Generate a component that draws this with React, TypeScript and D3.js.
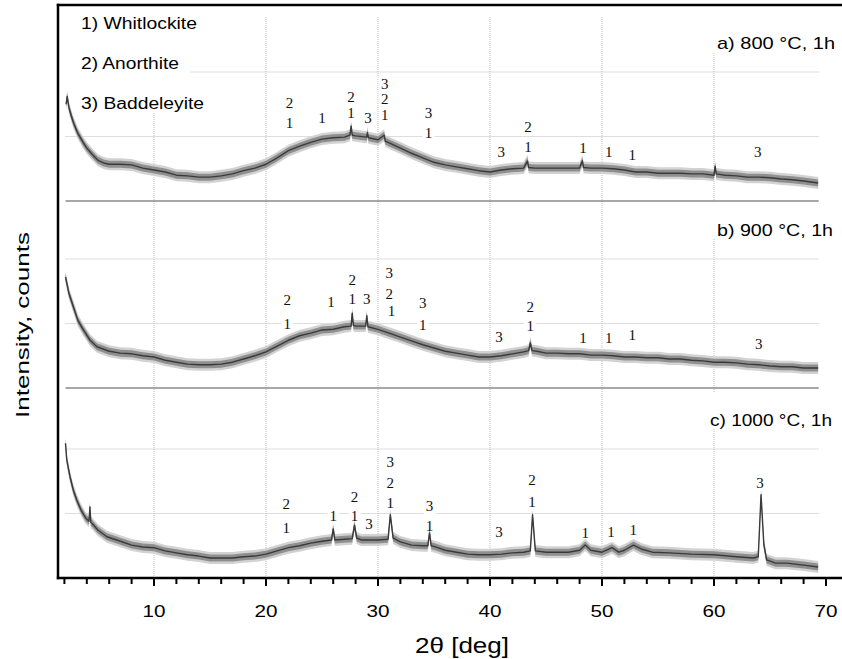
import React from "react";
import * as d3 from "d3";

// 2θ ticks
const minorTicks: number[] = [2,4,6,8,12,14,16,18,22,24,26,28,32,34,36,38,42,44,46,48,52,54,56,58,62,64,66,68];
const majorTicks: number[] = [10,20,30,40,50,60,70];
const gridX: number[] = [10,20,30,40,50,60];
const gridY: number[] = [1, 2];

const legendItems: string[] = ["1) Whitlockite", "2) Anorthite", "3) Baddeleyite"];
const panelLabels: string[] = ["a) 800  °C, 1h", "b) 900  °C, 1h", "c) 1000 °C, 1h"];

// [2θ, intensity (relative units)]
const patternA: [number, number][] = [
  [2.15,1.50],[2.25,1.62],[2.4,1.45],[2.6,1.33],[2.8,1.22],[3.0,1.13],[3.2,1.05],[3.4,0.99],[3.7,0.90],[4.0,0.82],
  [4.3,0.76],[4.6,0.70],[5.0,0.63],[5.5,0.59],[6,0.57],[7,0.57],[8,0.56],[9,0.51],[10,0.48],[11,0.45],[12,0.40],
  [13,0.39],[14,0.37],[15,0.37],[16,0.39],[17,0.42],[18,0.47],[19,0.51],[20,0.57],[21,0.67],[22,0.78],[23,0.85],
  [24,0.91],[25,0.96],[26,0.98],[27,0.99],[27.5,1.02],[27.6,1.16],[27.7,1.02],[28,1.01],[29,0.99],[29.05,1.06],
  [29.15,0.98],[30,0.95],[30.55,1.02],[30.65,0.93],[31,0.90],[32,0.82],[33,0.74],[34,0.67],[35,0.60],[36,0.56],
  [37,0.53],[38,0.50],[39,0.47],[40,0.45],[41,0.48],[42,0.50],[43,0.51],[43.35,0.62],[43.45,0.52],[44,0.51],[45,0.51],
  [46,0.51],[47,0.51],[48,0.51],[48.25,0.62],[48.35,0.52],[49,0.51],[50,0.51],[51,0.50],[52,0.48],[53,0.45],[54,0.45],
  [55,0.43],[56,0.43],[57,0.43],[58,0.42],[59,0.42],[60,0.40],[60.1,0.54],[60.2,0.42],[61,0.40],[62,0.39],[63,0.37],
  [64,0.37],[65,0.36],[66,0.34],[67,0.33],[68,0.31],[69.3,0.28]
];

const patternB: [number, number][] = [
  [2.1,1.72],[2.4,1.47],[2.8,1.26],[3.2,1.05],[3.7,0.90],[4.3,0.74],[4.9,0.64],[6,0.57],[7,0.54],[8,0.53],[9,0.50],
  [10,0.48],[11,0.43],[12,0.40],[13,0.37],[14,0.36],[15,0.36],[16,0.37],[17,0.40],[18,0.45],[19,0.50],[20,0.56],
  [21,0.65],[22,0.74],[23,0.81],[24,0.85],[25,0.90],[26,0.91],[27,0.95],[27.6,0.96],[27.7,1.16],[27.8,0.97],[28,0.96],
  [28.9,0.96],[29.0,1.12],[29.1,0.95],[30,0.91],[31,0.85],[32,0.79],[33,0.73],[34,0.67],[35,0.62],[36,0.57],[37,0.54],
  [38,0.51],[39,0.48],[40,0.48],[41,0.50],[42,0.53],[43,0.56],[43.45,0.58],[43.6,0.70],[43.75,0.58],[44.2,0.57],[45,0.54],
  [46,0.54],[47,0.53],[48,0.53],[49,0.51],[50,0.51],[51,0.50],[52,0.48],[53,0.48],[54,0.47],[55,0.47],[56,0.45],
  [57,0.45],[58,0.43],[59,0.42],[60,0.40],[61,0.40],[62,0.39],[63,0.37],[64,0.36],[65,0.34],[66,0.33],[67,0.33],
  [68,0.31],[69.3,0.31]
];

const patternC: [number, number][] = [
  [2.1,2.09],[2.2,1.85],[2.3,1.75],[2.5,1.57],[2.8,1.36],[3.1,1.21],[3.5,1.05],[3.9,0.93],[4.2,0.88],[4.28,1.10],
  [4.36,0.86],[4.5,0.84],[5,0.74],[5.8,0.64],[7,0.57],[8,0.51],[9,0.48],[10,0.47],[11,0.42],[12,0.39],[13,0.36],
  [14,0.34],[15,0.31],[16,0.31],[17,0.31],[18,0.33],[19,0.34],[20,0.37],[21,0.42],[22,0.47],[23,0.50],[24,0.54],
  [25,0.57],[25.85,0.59],[26.0,0.76],[26.15,0.59],[27,0.60],[27.7,0.61],[27.9,0.82],[28.1,0.62],[28.5,0.59],[29,0.59],
  [30,0.59],[30.9,0.60],[31.1,0.98],[31.35,0.62],[32,0.56],[33,0.51],[34,0.50],[34.45,0.50],[34.6,0.70],[34.75,0.50],
  [35,0.49],[36,0.43],[37,0.40],[38,0.37],[39,0.36],[40,0.36],[41,0.37],[42,0.39],[43,0.40],[43.6,0.42],[43.8,0.98],
  [44.05,0.42],[45,0.40],[46,0.40],[47,0.40],[48,0.43],[48.5,0.51],[49,0.43],[50,0.40],[50.9,0.47],[51.5,0.40],
  [52,0.43],[52.8,0.51],[53.5,0.45],[54.5,0.40],[56,0.39],[58,0.37],[60,0.36],[62,0.33],[63.5,0.31],[63.95,0.33],
  [64.2,1.29],[64.45,0.52],[64.7,0.28],[65.5,0.23],[66.5,0.23],[68,0.20],[69.3,0.17]
];

// peak annotations: [2θ, phase label, label height (relative units)]
const peaksA: [number, string, number][] = [
  [22.1,"2",1.44],[22.1,"1",1.13],[25.0,"1",1.21],[27.6,"2",1.53],[27.6,"1",1.29],[29.1,"3",1.21],
  [30.6,"3",1.74],[30.6,"2",1.50],[30.6,"1",1.26],[34.5,"3",1.29],[34.5,"1",0.98],[41.0,"3",0.68],
  [43.4,"2",1.07],[43.4,"1",0.76],[48.3,"1",0.74],[50.6,"1",0.68],[52.7,"1",0.64],[63.9,"3",0.68]
];
const peaksB: [number, string, number][] = [
  [21.9,"2",1.29],[21.9,"1",0.91],[25.8,"1",1.26],[27.7,"2",1.60],[27.7,"1",1.30],[29.0,"3",1.30],
  [31.0,"3",1.71],[31.0,"2",1.38],[31.2,"1",1.12],[34.0,"3",1.24],[34.0,"1",0.90],[40.8,"3",0.71],
  [43.6,"2",1.18],[43.6,"1",0.88],[48.3,"1",0.70],[50.6,"1",0.70],[52.7,"1",0.74],[64.0,"3",0.60]
];
const peaksC: [number, string, number][] = [
  [21.8,"2",1.07],[21.8,"1",0.70],[26.0,"1",0.88],[27.9,"2",1.18],[27.9,"1",0.88],[29.2,"3",0.76],
  [31.1,"3",1.72],[31.1,"2",1.40],[31.1,"1",1.09],[34.6,"3",1.04],[34.6,"1",0.73],[40.8,"3",0.64],
  [43.75,"2",1.44],[43.75,"1",1.10],[48.5,"1",0.62],[50.8,"1",0.64],[52.8,"1",0.67],[64.1,"3",1.40]
];

const patterns = [patternA, patternB, patternC];
const peaks = [peaksA, peaksB, peaksC];

const W = 842, H = 659;
const panelBase = [201, 388, 578];
const panelTop = [6, 203, 393];
const unitPx = 64.5;
const SANS = "'Liberation Sans', Arial, Helvetica, sans-serif";
const SERIF = "'Liberation Serif', 'Times New Roman', serif";

export default function App() {
  const x = d3.scaleLinear().domain([0, 70]).range([42, 826]);
  const ys = panelBase.map((b) => d3.scaleLinear().domain([0, 1]).range([b, b - unitPx]));
  const xL = x(2.1), xR = x(69.35);
  const panelLabelX = [717, 717, 710];
  const panelLabelLen = [118, 116, 122];
  const legendBase = [29, 69, 108.5];
  const legendLen = [116, 98, 123];

  return (
    <svg width={W} height={H} style={{ position: "absolute", left: 0, top: 0, display: "block", background: "#fff" }}>
      <rect x={0} y={0} width={W} height={H} fill="#fff" />
      {/* vertical grid */}
      {gridX.map((g) => (
        <line key={"gx" + g} x1={x(g)} x2={x(g)} y1={17} y2={578} stroke="#bdbdbd" strokeWidth={1} strokeDasharray="1 1" />
      ))}
      {/* horizontal grid & baselines */}
      {ys.map((y, i) => (
        <g key={"hg" + i}>
          {gridY.map((v) => (
            <line key={v} x1={xL} x2={xR} y1={y(v)} y2={y(v)} stroke="#bdbdbd" strokeWidth={1} strokeDasharray="1 1" />
          ))}
          {i < 2 && <line x1={xL} x2={xR} y1={y(0)} y2={y(0)} stroke="#8a8a8a" strokeWidth={1.5} />}
        </g>
      ))}
      {/* white boxes behind texts */}
      <rect x={60} y={7} width={130} height={106} fill="#fff" />
      {panelTop.map((t, i) => (
        <rect key={"pb" + i} x={700} y={t} width={142} height={(ys[i](2) - 20) - t} fill="#fff" />
      ))}
      {peaks.map((pk, i) =>
        pk.map((p, j) => (
          <rect key={"lb" + i + "-" + j} x={x(p[0]) - 6} y={ys[i](p[2]) - 12} width={12} height={15} fill="#fff" />
        ))
      )}
      {/* patterns: noisy band drawn as vertical envelope, then trace */}
      {patterns.map((pat, i) => {
        const y = ys[i];
        const band = (h: number) =>
          d3.area<[number, number]>().x((d) => x(d[0])).y0((d) => y(d[1]) + h).y1((d) => y(d[1]) - h)(pat) || "";
        const line = d3.line<[number, number]>().x((d) => x(d[0])).y((d) => y(d[1]));
        return (
          <g key={"pat" + i}>
            <path d={band(6)} fill="#d2d2d2" />
            <path d={band(3.5)} fill="#8f8f8f" />
            <path d={line(pat) || ""} fill="none" stroke="#3a3a3a" strokeWidth={1.4} strokeLinejoin="round" />
          </g>
        );
      })}
      {/* peak labels */}
      {peaks.map((pk, i) =>
        pk.map((p, j) => (
          <text key={"pl" + i + "-" + j} x={x(p[0])} y={ys[i](p[2])} fontFamily={SERIF} fontSize={15} textAnchor="middle" fill="#111">
            {p[1]}
          </text>
        ))
      )}
      {/* legend */}
      {legendItems.map((t, i) => (
        <text key={"lg" + i} x={81} y={legendBase[i]} fontFamily={SANS} fontSize={16} textLength={legendLen[i]} lengthAdjust="spacingAndGlyphs" fill="#000">
          {t}
        </text>
      ))}
      {/* panel labels */}
      {panelLabels.map((t, i) => (
        <text key={"plb" + i} x={panelLabelX[i]} y={ys[i](2) - 23} fontFamily={SANS} fontSize={17} textLength={panelLabelLen[i]} lengthAdjust="spacingAndGlyphs" fill="#000">
          {t}
        </text>
      ))}
      {/* frame */}
      <line x1={56.8} x2={842} y1={5} y2={5} stroke="#000" strokeWidth={2.5} />
      <line x1={58} x2={58} y1={3.8} y2={579.2} stroke="#000" strokeWidth={2.5} />
      <line x1={56.8} x2={842} y1={578} y2={578} stroke="#000" strokeWidth={2.5} />
      {/* ticks */}
      {minorTicks.map((t) => (
        <line key={"mt" + t} x1={x(t)} x2={x(t)} y1={578} y2={584} stroke="#000" strokeWidth={2} />
      ))}
      {majorTicks.map((t) => (
        <g key={"Mt" + t}>
          <line x1={x(t)} x2={x(t)} y1={578} y2={586} stroke="#000" strokeWidth={2} />
          <text x={x(t)} y={617} fontFamily={SANS} fontSize={17} textAnchor="middle" textLength={23} lengthAdjust="spacingAndGlyphs" fill="#000">
            {String(t)}
          </text>
        </g>
      ))}
      {/* axis titles */}
      <text x={415} y={653} fontFamily={SANS} fontSize={22} textLength={94} lengthAdjust="spacingAndGlyphs" fill="#000">
        2θ [deg]
      </text>
      <text transform="translate(29,325) rotate(-90)" fontFamily={SANS} fontSize={19} textAnchor="middle" textLength={186} lengthAdjust="spacingAndGlyphs" fill="#000">
        Intensity, counts
      </text>
    </svg>
  );
}
